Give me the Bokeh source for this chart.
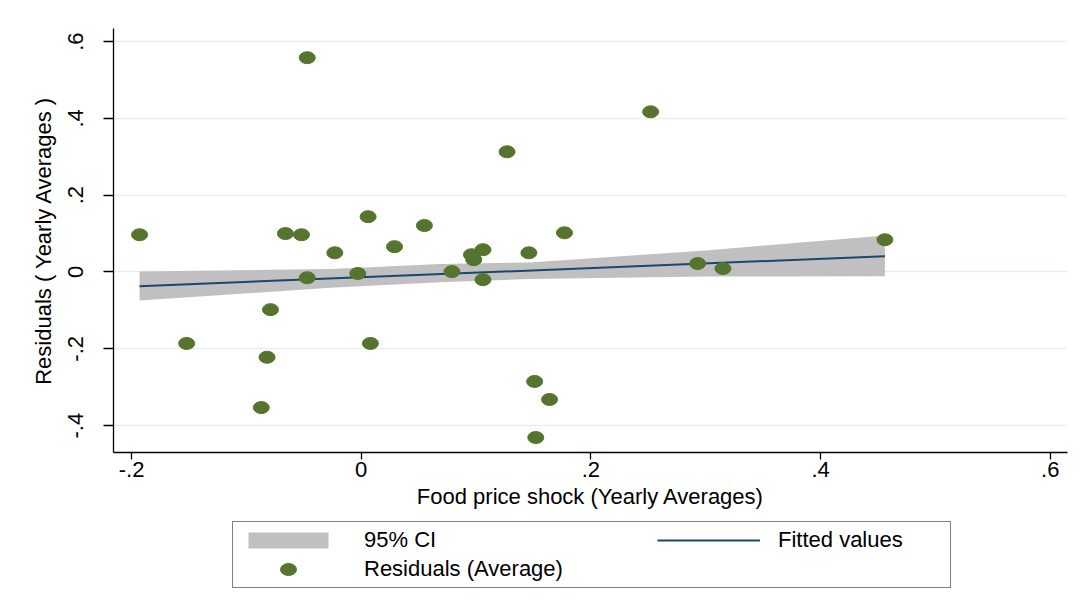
from bokeh.plotting import figure
from bokeh.layouts import column
from bokeh.models import Range1d, FixedTicker, Legend, LegendItem
from bokeh.embed import file_html
from bokeh.resources import INLINE

# ---- data ----
shock = [-0.193, -0.047, 0.252, 0.127, -0.066, -0.052, 0.006, 0.055, -0.023, 0.029,
         -0.047, -0.003, 0.079, 0.096, 0.098, 0.106, 0.106, 0.146, 0.177, 0.293,
         0.315, 0.456, -0.152, -0.079, -0.082, -0.087, 0.008, 0.151, 0.164, 0.152]
resid = [0.097, 0.558, 0.417, 0.313, 0.100, 0.097, 0.144, 0.121, 0.050, 0.066,
         -0.015, -0.004, 0.001, 0.045, 0.032, 0.058, -0.020, 0.050, 0.102, 0.022,
         0.009, 0.084, -0.186, -0.098, -0.222, -0.353, -0.186, -0.285, -0.332, -0.431]

fit_x = [-0.193, 0.456]
fit_y = [-0.037, 0.041]

ci_x = [-0.193, -0.027, 0.069, 0.147, 0.300, 0.456]
ci_lo = [-0.0745, -0.041, -0.027, -0.018, -0.012, -0.011]
ci_hi = [0.001, 0.008, 0.021, 0.025, 0.056, 0.095]

x_ticks = [-0.2, 0, 0.2, 0.4, 0.6]
x_tick_labels = ["-.2", "0", ".2", ".4", ".6"]
y_ticks = [-0.4, -0.2, 0, 0.2, 0.4, 0.6]
y_tick_labels = ["-.4", "-.2", "0", ".2", ".4", ".6"]

x_title = "Food price shock (Yearly Averages)"
y_title = "Residuals ( Yearly Averages )"
lab_ci = "95% CI"
lab_fit = "Fitted values"
lab_res = "Residuals (Average)"

FONT = "Liberation Sans"
CI_COLOR = "#c0c0c0"
FIT_COLOR = "#1a476f"
DOT_COLOR = "#55752f"

# ---------------- main plot ----------------
p = figure(width=1086, height=514, output_backend="svg", toolbar_location=None,
           x_range=Range1d(-0.2157, 0.615), y_range=Range1d(-0.470, 0.634),
           min_border_left=113, min_border_top=28, min_border_right=19,
           min_border_bottom=62)
p.outline_line_alpha = 0
p.background_fill_color = "white"
p.border_fill_color = "white"

p.xgrid.visible = False
p.ygrid.ticker = FixedTicker(ticks=y_ticks)
p.ygrid.grid_line_color = "#e6edf1"
p.ygrid.grid_line_width = 1.5

p.xaxis.ticker = FixedTicker(ticks=x_ticks)
p.xaxis.major_label_overrides = dict(zip(x_ticks, x_tick_labels))
p.yaxis.ticker = FixedTicker(ticks=y_ticks)
p.yaxis.major_label_overrides = dict(zip(y_ticks, y_tick_labels))
p.xaxis.axis_label = x_title
p.yaxis.axis_label = y_title

for ax in (p.xaxis[0], p.yaxis[0]):
    ax.axis_line_color = "black"
    ax.axis_line_width = 1.3
    ax.major_tick_line_color = "black"
    ax.major_tick_line_width = 1.3
    ax.major_tick_in = 0
    ax.minor_tick_line_color = None
    ax.major_label_text_font = FONT
    ax.major_label_text_font_size = "22px"
    ax.major_label_text_color = "black"
    ax.axis_label_text_font = FONT
    ax.axis_label_text_font_size = "22px"
    ax.axis_label_text_font_style = "normal"
    ax.axis_label_text_color = "black"

p.xaxis.major_tick_out = 7
p.xaxis.major_label_standoff = 2
p.xaxis.axis_label_standoff = 4
p.yaxis.major_tick_out = 10
p.yaxis.major_label_orientation = "vertical"
p.yaxis.major_label_standoff = 20
p.yaxis.axis_label_standoff = 10

band = p.varea(x=ci_x, y1=ci_lo, y2=ci_hi, fill_color=CI_COLOR, fill_alpha=1.0)
fit = p.line(fit_x, fit_y, line_color=FIT_COLOR, line_width=2)
dots = p.ellipse(x=shock, y=resid, width=16, height=12, width_units="screen",
                 height_units="screen", fill_color=DOT_COLOR, line_color=DOT_COLOR)

# ---------------- legend strip below ----------------
q = figure(width=1086, height=100, output_backend="svg", toolbar_location=None,
           x_range=Range1d(10, 11), y_range=Range1d(10, 11),
           x_axis_type=None, y_axis_type=None,
           min_border_left=0, min_border_right=0, min_border_top=0, min_border_bottom=0)
q.outline_line_alpha = 0
q.grid.visible = False
q.background_fill_color = "white"
q.border_fill_color = "white"

band_k = q.varea(x=ci_x, y1=ci_lo, y2=ci_hi, fill_color=CI_COLOR, fill_alpha=1.0)
fit_k = q.line(fit_x, fit_y, line_color=FIT_COLOR, line_width=2)
dots_k = q.ellipse(x=shock, y=resid, width=16, height=12, width_units="screen",
                   height_units="screen", fill_color=DOT_COLOR, line_color=DOT_COLOR)

leg1 = Legend(items=[LegendItem(label=lab_ci, renderers=[band_k]),
                     LegendItem(label=lab_res, renderers=[dots_k])],
              location=(119, 26), orientation="vertical",
              glyph_width=100, glyph_height=20, label_standoff=26, label_width=581,
              spacing=3, padding=5, margin=0,
              border_line_color="black", border_line_width=1.5,
              background_fill_color="white", background_fill_alpha=1.0,
              label_text_font=FONT, label_text_font_size="22px", label_text_color="black")
leg2 = Legend(items=[LegendItem(label=lab_fit, renderers=[fit_k])],
              location=(544, 61), orientation="vertical",
              glyph_width=103, glyph_height=20, label_standoff=18,
              spacing=0, padding=0, margin=0,
              border_line_alpha=0, background_fill_alpha=0,
              label_text_font=FONT, label_text_font_size="22px", label_text_color="black")
q.add_layout(leg1)
q.add_layout(leg2)

layout = column(p, q, spacing=0)

open("out.html", "w").write(file_html(layout, INLINE))
